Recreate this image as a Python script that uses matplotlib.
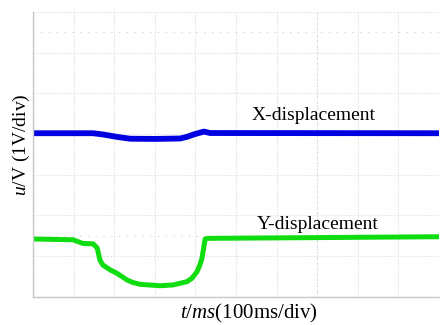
import numpy as np
import matplotlib
matplotlib.use("Agg")
import matplotlib.pyplot as plt

plt.rcParams['font.family'] = ['Liberation Serif', 'DejaVu Serif']
plt.rcParams['mathtext.fontset'] = 'custom'
plt.rcParams['mathtext.rm'] = 'Liberation Serif'
plt.rcParams['mathtext.it'] = 'Liberation Serif:italic'

# scope traces, in divisions (x: 100 ms/div, y: 1 V/div)
x_t = [0.0, 1.48, 1.72, 2.07, 2.39, 3.0, 3.62, 3.79, 3.99, 4.21, 4.36, 10.0]
x_u = [4.02, 4.02, 3.99, 3.93, 3.885, 3.88, 3.89, 3.93, 4.0, 4.06, 4.025, 4.02]

y_t = [0.0, 0.985, 1.23, 1.48, 1.58, 1.61, 1.65, 1.72, 1.90, 2.07, 2.32,
       2.46, 2.64, 3.13, 3.45, 3.79, 3.91, 4.04, 4.11, 4.16, 4.24, 4.31, 10.0]
y_u = [1.42, 1.40, 1.31, 1.30, 1.20, 1.07, 0.90, 0.78, 0.66, 0.575, 0.41,
       0.35, 0.305, 0.27, 0.29, 0.37, 0.45, 0.615, 0.78, 0.94, 1.42, 1.435, 1.475]

n_xdiv = 10
n_ydiv = 7

fig = plt.figure(figsize=(4.43, 3.25), dpi=100)
ax = fig.add_axes([0.0745, 0.087, 0.9165, 0.876])

# graticule
for i in range(n_xdiv + 1):
    ax.axvline(i, color='#e8e8e8', lw=0.8, ls=(0, (2, 1)), zorder=0)
for j in range(n_ydiv + 1):
    ax.axhline(j, color='#e8e8e8', lw=0.8, ls=(0, (2, 1)), zorder=0)
ax.axhline(6.5, color='#d0d0d0', lw=0.8, ls=(0, (1, 6)), zorder=0)
ax.axhline(1.5, color='#d0d0d0', lw=0.8, ls=(0, (1, 6)), zorder=0)
ax.axvline(7, color='#d0d0d0', lw=0.8, ls=(0, (1, 4)), zorder=0)

ax.plot(x_t, x_u, color='#0000e0', lw=4.2, solid_capstyle='butt',
        solid_joinstyle='round')
ax.plot(y_t, y_u, color='#10dd10', lw=3.6, solid_capstyle='butt',
        solid_joinstyle='round')

ax.text(5.39, 4.345, 'X-displacement', fontsize=14, va='baseline', ha='left')
ax.text(5.52, 1.665, 'Y-displacement', fontsize=14, va='baseline', ha='left')

ax.set_xlim(0, n_xdiv)
ax.set_ylim(0, n_ydiv)
ax.set_xticks([])
ax.set_yticks([])
for s in ['top', 'right']:
    ax.spines[s].set_visible(False)
for s in ['left', 'bottom']:
    ax.spines[s].set_color('#c8c8c8')
    ax.spines[s].set_linewidth(1.0)

fig.text(0.562, 0.0215, r'$t/ms$(100ms/div)', fontsize=15, ha='center', va='baseline')
fig.text(0.0485, 0.554, r'$u$/V (1V/div)', fontsize=14, ha='center', va='center',
         rotation=90)

fig.savefig('out.png', dpi=100)
